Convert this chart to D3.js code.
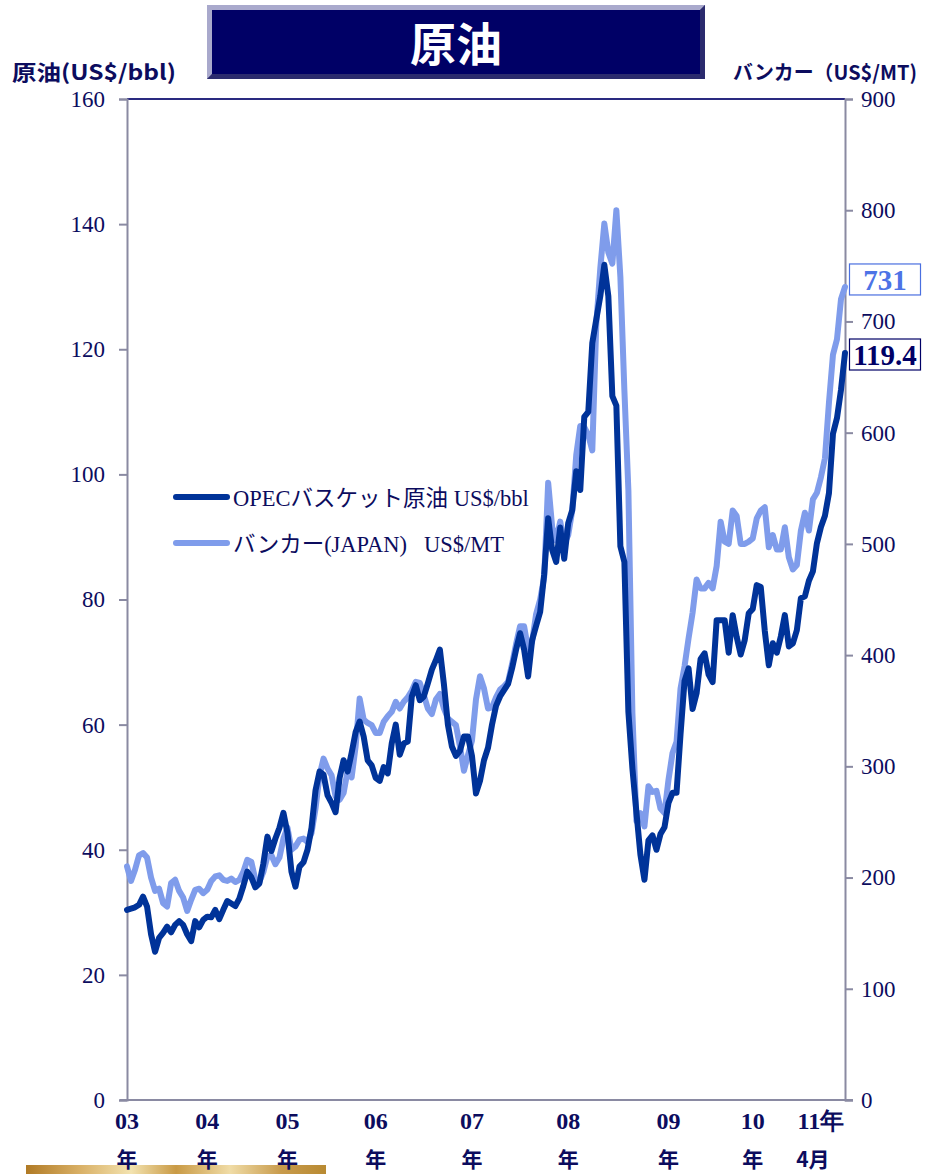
<!DOCTYPE html>
<html>
<head>
<meta charset="utf-8">
<script src="https://cdn.jsdelivr.net/npm/d3@7"></script>
<style>
  html, body { margin: 0; padding: 0; background: #ffffff; }
  svg { display: block; }
  text { white-space: pre; }
</style>
</head>
<body>
<svg id="chart" width="925" height="1174"></svg>
<script>
// OPEC basket crude (US$/bbl), bi-weekly observations, Jan 2003 – Apr 2011
const oilPrice = [30.4,30.6,30.8,31.2,32.5,30.9,26.5,23.7,25.9,26.7,
27.7,26.8,28.0,28.6,28.0,26.5,25.4,28.6,27.6,28.8,
29.3,29.2,30.4,28.9,30.4,31.8,31.4,31.0,32.2,34.2,
36.5,35.6,34.0,34.6,37.8,42.1,39.8,41.8,43.5,45.9,
42.7,36.5,34.1,37.3,38.0,40.0,43.5,49.5,52.5,52.0,
48.7,47.5,46.0,51.5,54.3,52.5,55.5,58.8,60.5,58.1,
54.3,53.5,51.5,51.0,53.2,52.2,57.0,60.0,55.2,57.0,
57.3,64.5,66.3,63.9,64.5,66.6,68.8,70.3,72.0,66.5,
60.0,56.5,55.0,55.8,58.1,58.1,55.0,49.0,51.0,54.3,
56.3,60.0,63.0,64.5,65.5,66.5,69.0,72.0,74.6,72.0,
67.7,73.5,75.8,78.0,84.0,93.0,87.9,86.0,91.5,86.5,
92.2,94.3,100.5,97.5,109.2,110.0,121.0,124.8,128.5,133.5,
128.5,112.5,111.0,88.5,86.0,62.0,53.0,46.0,39.2,35.2,
41.5,42.3,40.0,42.5,43.6,47.5,49.1,49.1,58.5,67.0,
69.0,62.5,65.0,70.5,71.4,68.0,66.8,76.7,76.7,76.7,
71.5,77.5,74.0,71.2,73.5,77.8,78.5,82.3,82.0,75.0,
69.5,73.0,71.5,74.1,77.5,72.5,73.0,75.1,80.2,80.5,
83.0,84.5,89.0,91.6,93.4,97.0,106.5,109.0,113.5,119.4];

// Bunker fuel, Japan (US$/MT), same observation dates
const bunkerPrice = [210,197,207,220,222,218,200,188,190,177,
174,195,198,188,182,170,180,189,190,186,
189,197,201,202,198,197,199,196,198,205,
216,214,198,196,205,219,220,212,218,235,
245,225,228,234,235,232,240,262,292,307,
298,292,273,270,276,296,290,318,361,342,
339,337,330,330,340,345,349,358,352,358,
362,368,376,375,364,352,347,360,365,352,
343,340,337,318,296,310,323,360,381,370,
352,353,362,369,372,376,392,410,426,426,
405,412,437,450,470,555,515,503,520,500,
508,530,580,606,605,598,584,698,748,788,
762,752,800,740,638,548,348,251,258,246,
282,277,278,262,258,288,312,322,370,390,
415,438,468,460,460,465,460,480,520,502,
500,530,525,500,500,502,505,523,530,533,
497,508,495,495,515,488,477,481,512,528,
512,540,546,560,577,627,670,684,720,731];

// first observation of each year, with its two-line label
const yearIndex  = [0, 20, 40, 62, 86, 110, 135, 156, 173];
const yearTop    = ["03", "04", "05", "06", "07", "08", "09", "10", "11年"];
const yearBottom = ["年", "年", "年", "年", "年", "年", "年", "年", "4月"];

const leftTicks  = [0, 20, 40, 60, 80, 100, 120, 140, 160];
const rightTicks = [0, 100, 200, 300, 400, 500, 600, 700, 800, 900];

const seriesNames = ["OPECバスケット原油 US$/bbl", "バンカー(JAPAN)   US$/MT"];
const titleText = "原油";
const leftTitle = "原油(US$/bbl)";
const rightTitle = "バンカー（US$/MT)";

const DARK = "#003399", LIGHT = "#7f9ceb", NAVY = "#0c0c5e", AXIS = "#8a8aa2";
const SERIF = "'Liberation Serif','Times New Roman',serif";
const CJK = "'Noto Sans CJK JP','Noto Sans',sans-serif";

const svg = d3.select("#chart");
const plotLeft = 127, plotRight = 845, plotTop = 99, plotBottom = 1100;

const x = d3.scaleLinear().domain([0, oilPrice.length - 1]).range([plotLeft, plotRight]);
const yL = d3.scaleLinear().domain([0, 160]).range([plotBottom, plotTop]);
const yR = d3.scaleLinear().domain([0, 900]).range([plotBottom, plotTop]);

// ---- title banner ----
const defs = svg.append("defs");
const bx = 207, by = 5, bw = 498, bh = 74, bev = 5;
svg.append("rect").attr("x", bx).attr("y", by).attr("width", bw).attr("height", bh).attr("fill", "#5a5a96");
svg.append("polygon")
  .attr("points", [[bx, by], [bx + bw, by], [bx + bw - bev, by + bev], [bx + bev, by + bev], [bx + bev, by + bh - bev], [bx, by + bh]].join(" "))
  .attr("fill", "#a9a9cc");
svg.append("polygon")
  .attr("points", [[bx + bw, by], [bx + bw, by + bh], [bx, by + bh], [bx + bev, by + bh - bev], [bx + bw - bev, by + bh - bev], [bx + bw - bev, by + bev]].join(" "))
  .attr("fill", "#2b2b6e");
svg.append("rect").attr("x", bx + bev).attr("y", by + bev).attr("width", bw - 2 * bev).attr("height", bh - 2 * bev).attr("fill", "#000066");
svg.append("text").attr("x", bx + bw / 2).attr("y", by + 56).attr("text-anchor", "middle")
  .attr("font-family", CJK).attr("font-weight", "bold").attr("font-size", 46).attr("fill", "#ffffff")
  .text(titleText);

// ---- axis titles ----
svg.append("text").attr("x", 12).attr("y", 80).attr("font-family", CJK).attr("font-weight", "bold")
  .attr("font-size", 21).attr("fill", NAVY).attr("textLength", 164).attr("lengthAdjust", "spacingAndGlyphs")
  .text(leftTitle);
svg.append("text").attr("x", 733).attr("y", 80).attr("font-family", CJK).attr("font-weight", "bold")
  .attr("font-size", 20).attr("fill", NAVY).attr("textLength", 184).attr("lengthAdjust", "spacingAndGlyphs")
  .text(rightTitle);

// ---- frame and axes ----
svg.append("line").attr("x1", plotLeft).attr("x2", plotRight).attr("y1", plotTop).attr("y2", plotTop)
  .attr("stroke", "#2a2a80").attr("stroke-width", 2);

const gL = svg.append("g").attr("transform", `translate(${plotLeft},0)`)
  .call(d3.axisLeft(yL).tickValues(leftTicks).tickSize(8).tickPadding(14).tickFormat(d3.format("d")));
const gR = svg.append("g").attr("transform", `translate(${plotRight},0)`)
  .call(d3.axisRight(yR).tickValues(rightTicks).tickSize(8).tickPadding(8).tickFormat(d3.format("d")));
[gL, gR].forEach(g => {
  g.select(".domain").attr("stroke", AXIS).attr("stroke-width", 2);
  g.selectAll(".tick line").attr("stroke", AXIS).attr("stroke-width", 2);
  g.selectAll(".tick text").attr("font-family", SERIF).attr("font-size", 23).attr("fill", NAVY);
});

svg.append("line").attr("x1", 120).attr("x2", 853).attr("y1", plotBottom).attr("y2", plotBottom)
  .attr("stroke", AXIS).attr("stroke-width", 2);

// ---- gold strip at the lower left (behind the year labels) ----
const gold = defs.append("linearGradient").attr("id", "gold").attr("x1", "0%").attr("x2", "100%");
[["0%", "#b07a25"], ["18%", "#d9b066"], ["35%", "#f3e3b0"], ["50%", "#c99a45"], ["68%", "#f0dca6"], ["85%", "#c89b4c"], ["100%", "#b88a32"]]
  .forEach(([o, c]) => gold.append("stop").attr("offset", o).attr("stop-color", c));
svg.append("rect").attr("x", 26).attr("y", 1165).attr("width", 300).attr("height", 9).attr("fill", "url(#gold)");

// ---- year labels ----
const xl = svg.append("g");
yearIndex.forEach((idx, k) => {
  xl.append("text").attr("x", x(idx)).attr("y", 1129).attr("text-anchor", "middle")
    .attr("font-family", SERIF).attr("font-weight", "bold").attr("font-size", 24).attr("fill", NAVY)
    .text(yearTop[k]);
  xl.append("text").attr("x", x(idx) - (k === yearIndex.length - 1 ? 8 : 0)).attr("y", 1167).attr("text-anchor", "middle")
    .attr("font-family", CJK).attr("font-weight", "bold").attr("font-size", 21).attr("fill", NAVY)
    .text(yearBottom[k]);
});

// ---- series lines ----
const lineBunker = d3.line().x((d, i) => x(i)).y(d => yR(d));
const lineOil = d3.line().x((d, i) => x(i)).y(d => yL(d));
svg.append("path").datum(bunkerPrice).attr("d", lineBunker)
  .attr("fill", "none").attr("stroke", LIGHT).attr("stroke-width", 6)
  .attr("stroke-linejoin", "round").attr("stroke-linecap", "round");
svg.append("path").datum(oilPrice).attr("d", lineOil)
  .attr("fill", "none").attr("stroke", DARK).attr("stroke-width", 6)
  .attr("stroke-linejoin", "round").attr("stroke-linecap", "round");

// ---- legend ----
const legend = svg.append("g");
[[DARK, 497, seriesNames[0]], [LIGHT, 543, seriesNames[1]]].forEach(([c, y, t]) => {
  legend.append("line").attr("x1", 176).attr("x2", 227).attr("y1", y).attr("y2", y)
    .attr("stroke", c).attr("stroke-width", 6).attr("stroke-linecap", "round");
  legend.append("text").attr("x", 233).attr("y", y + 9)
    .attr("font-family", SERIF + ",'Noto Sans CJK JP'").attr("font-size", 22.5).attr("fill", NAVY).text(t);
});

// ---- end-value callouts ----
const lastOil = oilPrice[oilPrice.length - 1];
const lastBunker = bunkerPrice[bunkerPrice.length - 1];
function callout(val, yPix, color, txt) {
  const g = svg.append("g");
  g.append("rect").attr("x", 849.5).attr("y", yPix - 16).attr("width", 71).attr("height", 31)
    .attr("fill", "#ffffff").attr("stroke", color).attr("stroke-width", 1.2);
  g.append("text").attr("x", 885).attr("y", yPix + 10).attr("text-anchor", "middle")
    .attr("font-family", SERIF).attr("font-weight", "bold").attr("font-size", 29).attr("fill", txt)
    .text(val);
}
callout(String(lastBunker), yR(lastBunker) - 7, "#4a6fe0", "#4d73e6");
callout(lastOil.toFixed(1), yL(lastOil) + 2, "#000066", "#000066");
</script>
</body>
</html>
